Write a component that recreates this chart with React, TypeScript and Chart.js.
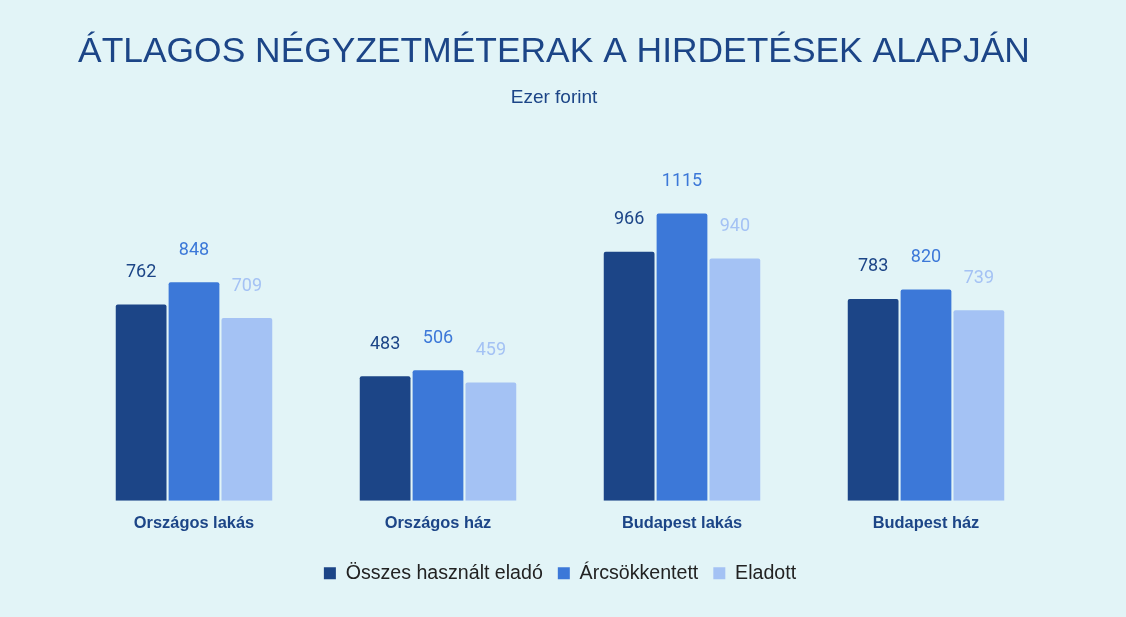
import React, { useEffect, useRef } from "react";
import { Chart, registerables } from "chart.js";

Chart.register(...registerables);

const categories = ["Országos lakás", "Országos ház", "Budapest lakás", "Budapest ház"];
const seriesNames = ["Összes használt eladó", "Árcsökkentett", "Eladott"];
const osszes = [762, 483, 966, 783];
const arcsokkentett = [848, 506, 1115, 820];
const eladott = [709, 459, 940, 739];
const colors = ["#1c4587", "#3c78d8", "#a4c2f4"];
const titleText = "ÁTLAGOS NÉGYZETMÉTERAK A HIRDETÉSEK ALAPJÁN";
const subtitleText = "Ezer forint";
const BG = "#e2f4f7";

const bgPlugin = {
  id: "bgFill",
  beforeDraw(chart: any) {
    const ctx = chart.ctx;
    ctx.save();
    ctx.fillStyle = BG;
    ctx.fillRect(0, 0, chart.width, chart.height);
    ctx.restore();
  },
};

const titlePlugin = {
  id: "titleDraw",
  afterDraw(chart: any) {
    const ctx = chart.ctx;
    ctx.save();
    ctx.textAlign = "center";
    ctx.textBaseline = "middle";
    ctx.fillStyle = "#1c4587";
    ctx.font = "35.4px 'Liberation Sans', Arial, sans-serif";
    ctx.fillText(titleText, 554, 52);
    ctx.font = "19px 'Liberation Sans', Arial, sans-serif";
    ctx.fillText(subtitleText, 554, 98);
    ctx.restore();
  },
};

const labelPlugin = {
  id: "valueLabels",
  afterDatasetsDraw(chart: any) {
    const ctx = chart.ctx;
    ctx.save();
    ctx.textAlign = "center";
    ctx.textBaseline = "middle";
    ctx.font = "18px Roboto, sans-serif";
    chart.data.datasets.forEach((ds: any, i: number) => {
      const meta = chart.getDatasetMeta(i);
      ctx.fillStyle = ds.backgroundColor;
      meta.data.forEach((bar: any, j: number) => {
        ctx.fillText(String(ds.data[j]), bar.x, bar.y - 32);
      });
    });
    ctx.restore();
  },
};

export default function App() {
  const ref = useRef<HTMLCanvasElement>(null);
  useEffect(() => {
    document.body.style.margin = "0";
    document.body.style.background = BG;
    const chart = new Chart(ref.current!, {
      type: "bar",
      data: {
        labels: categories,
        datasets: [osszes, arcsokkentett, eladott].map((d, i) => ({
          label: seriesNames[i],
          data: d,
          backgroundColor: colors[i],
          borderRadius: { topLeft: 2, topRight: 2, bottomLeft: 0, bottomRight: 0 },
          borderSkipped: false,
          barPercentage: 0.96,
          categoryPercentage: 0.65,
        })),
      },
      options: {
        responsive: false,
        animation: false,
        layout: { padding: { left: 72, right: 78, top: 140, bottom: 24 } },
        scales: {
          y: { display: false, min: 0, max: 1400 },
          x: {
            grid: { display: false },
            border: { display: false },
            afterFit(scale: any) {
              scale.height += 10;
            },
            ticks: {
              color: "#1c4587",
              font: { family: "'Liberation Sans', Arial, sans-serif", size: 16.4, weight: "bold" },
              padding: 5,
            },
          },
        },
        plugins: {
          title: { display: false },
          tooltip: { enabled: false },
          legend: {
            position: "bottom",
            labels: {
              color: "#222222",
              font: { family: "'Liberation Sans', Arial, sans-serif", size: 19.6 },
              boxWidth: 12,
              boxHeight: 12,
              padding: 15,
            },
          },
        },
      },
      plugins: [bgPlugin, titlePlugin, labelPlugin],
    });
    return () => chart.destroy();
  }, []);
  return (
    <div style={{ width: 1126, height: 617 }}>
      <canvas ref={ref} width={1126} height={617} style={{ display: "block" }} />
    </div>
  );
}
